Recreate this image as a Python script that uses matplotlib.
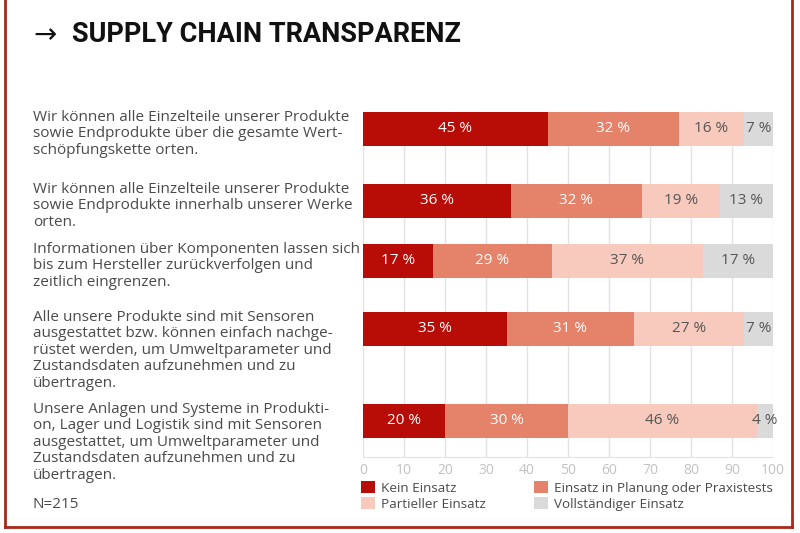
import matplotlib
matplotlib.use("Agg")
import matplotlib.pyplot as plt
from matplotlib.patches import Patch
import numpy as np

# ---- data ----
questions = [
    "Wir können alle Einzelteile unserer Produkte\nsowie Endprodukte über die gesamte Wert-\nschöpfungskette orten.",
    "Wir können alle Einzelteile unserer Produkte\nsowie Endprodukte innerhalb unserer Werke\norten.",
    "Informationen über Komponenten lassen sich\nbis zum Hersteller zurückverfolgen und\nzeitlich eingrenzen.",
    "Alle unsere Produkte sind mit Sensoren\nausgestattet bzw. können einfach nachge-\nrüstet werden, um Umweltparameter und\nZustandsdaten aufzunehmen und zu\nübertragen.",
    "Unsere Anlagen und Systeme in Produkti-\non, Lager und Logistik sind mit Sensoren\nausgestattet, um Umweltparameter und\nZustandsdaten aufzunehmen und zu\nübertragen.",
]
series_names = ["Kein Einsatz", "Einsatz in Planung oder Praxistests",
                "Partieller Einsatz", "Vollständiger Einsatz"]
kein = [45, 36, 17, 35, 20]
planung = [32, 32, 29, 31, 30]
partiell = [16, 19, 37, 27, 46]
voll = [7, 13, 17, 7, 4]
x_ticks = [0, 10, 20, 30, 40, 50, 60, 70, 80, 90, 100]
title = "SUPPLY CHAIN TRANSPARENZ"
note = "N=215"

# ---- style / layout ----
colors = ["#b80c06", "#e4826a", "#f7cabd", "#dadada"]
label_colors = ["white", "white", "#555555", "#555555"]
text_color = "#4a4a4a"
font = "Open Sans"
plt.rcParams["font.family"] = [font, "DejaVu Sans"]

W, H = 800, 533
fig = plt.figure(figsize=(8, 5.33), dpi=100)
ax_top_px, ax_bot_px = 112, 457
ax_left_px, ax_right_px = 363, 773
ax = fig.add_axes([ax_left_px / W, 1 - ax_bot_px / H,
                   (ax_right_px - ax_left_px) / W, (ax_bot_px - ax_top_px) / H])

# bar vertical layout (axis units, inverted, top = 0)
bar_pos = [17, 89, 149, 217, 309]
bar_h = 34
ax.set_ylim(ax_bot_px - ax_top_px, 0)
ax.set_xlim(0, 100)

series = [kein, planung, partiell, voll]
left = np.zeros(len(questions))
for vals, c, lc in zip(series, colors, label_colors):
    vals = np.array(vals, dtype=float)
    ax.barh(bar_pos, vals, left=left, height=bar_h, color=c, zorder=3)
    for y, l, v in zip(bar_pos, left, vals):
        ax.text(l + v / 2, y, f"{int(v)} %", ha="center", va="center",
                color=lc, fontsize=11, zorder=4)
    left += vals

ax.set_xticks(x_ticks)
ax.set_xticklabels([str(t) for t in x_ticks])
ax.tick_params(axis="x", length=0, colors="#c2c2c2", labelsize=10, pad=4)
ax.set_yticks([])
ax.grid(axis="x", color="#e2e2e2", linewidth=1, zorder=0)
for s in ["top", "right", "left"]:
    ax.spines[s].set_visible(False)
ax.spines["bottom"].set_color("#e2e2e2")

# question texts (left of axes, top-aligned with bars)
text_x = (33 - ax_left_px) / (ax_right_px - ax_left_px)
for y, q in zip(bar_pos, questions):
    ax.text(text_x, y - bar_h / 2 - 2, q, transform=ax.get_yaxis_transform(),
            ha="left", va="top", color=text_color, fontsize=11,
            linespacing=1.13)

# title
fig.text(33 / W, 1 - 35 / H, "→", fontsize=20, color="#111111",
         va="center", ha="left", family="DejaVu Sans")
fig.text(72 / W, 1 - 35 / H, title, fontsize=19.5, fontweight="bold",
         color="#111111", va="center", ha="left", family="Roboto")
fig.text(33 / W, 1 - 505 / H, note, fontsize=11, color=text_color,
         va="center", ha="left")

# legend (two columns)
handles = [Patch(facecolor=c, edgecolor="none") for c in colors]
for idxs, xpx in [([0, 2], 361), ([1, 3], 534)]:
    leg = fig.legend([handles[i] for i in idxs], [series_names[i] for i in idxs],
                     loc="upper left", bbox_to_anchor=(xpx / W, 1 - 481 / H),
                     frameon=False, fontsize=9.7, handlelength=1.05,
                     handleheight=1.05, handletextpad=0.45, labelspacing=0.15,
                     borderaxespad=0, borderpad=0)
    for t in leg.get_texts():
        t.set_color(text_color)

# frame lines
frame_c = "#a8281c"
fig.add_artist(plt.Line2D([5 / W, 5 / W], [1, 1 - 527 / H], color=frame_c, lw=2))
fig.add_artist(plt.Line2D([792 / W, 792 / W], [1, 1 - 527 / H], color=frame_c, lw=2))
fig.add_artist(plt.Line2D([5 / W, 792 / W], [1 - 527 / H, 1 - 527 / H], color=frame_c, lw=2))

fig.savefig("out.png", dpi=100)
